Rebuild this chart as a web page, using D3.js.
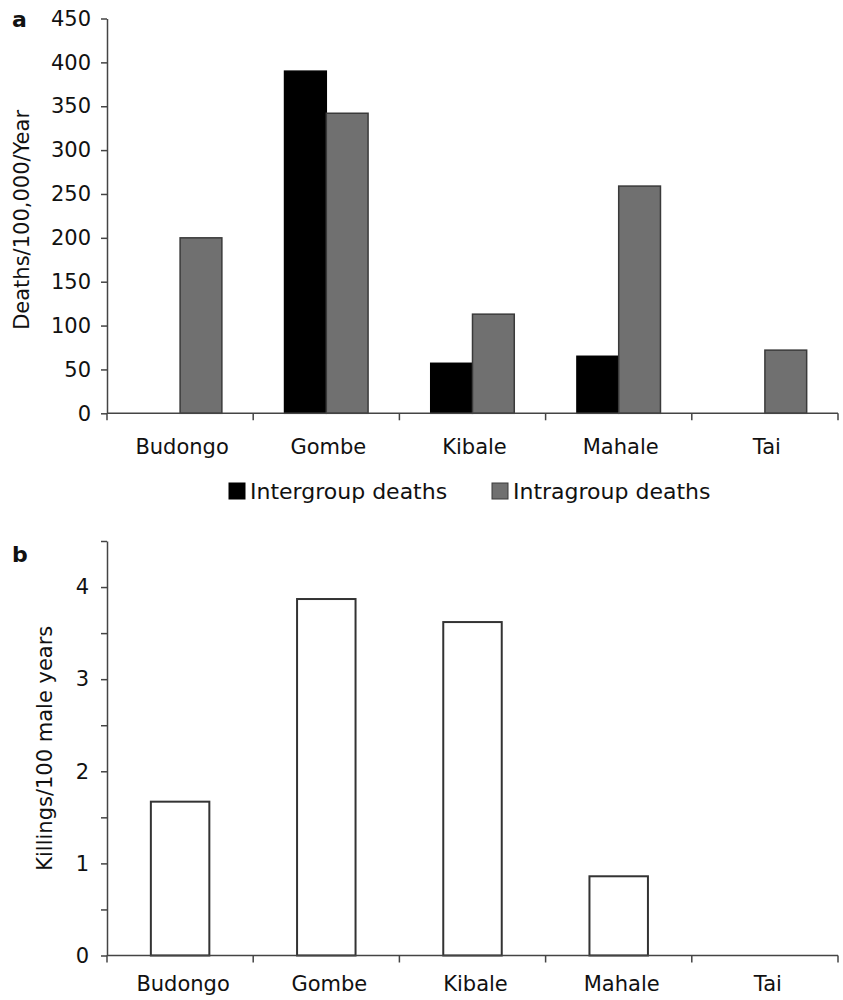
<!DOCTYPE html>
<html>
<head>
<meta charset="utf-8">
<script src="https://cdn.jsdelivr.net/npm/d3@7"></script>
<style>
  html, body { margin: 0; padding: 0; background: #fff; }
  svg text { font-family: "DejaVu Sans", Verdana, sans-serif; fill: #111; }
</style>
</head>
<body>
<svg id="chart" width="843" height="1000"></svg>
<script>
// ---- data ----
const categories = ["Budongo", "Gombe", "Kibale", "Mahale", "Tai"];
const seriesNames = ["Intergroup deaths", "Intragroup deaths"];
const intergroupDeaths = [0, 390, 57, 65, 0];
const intragroupDeaths = [200, 342, 113, 259, 72];
const killingsPer100MaleYears = [1.67, 3.87, 3.62, 0.86, 0];
const ticksA = [0, 50, 100, 150, 200, 250, 300, 350, 400, 450];
const ticksB = [0, 0.5, 1, 1.5, 2, 2.5, 3, 3.5, 4, 4.5];

const svg = d3.select("#chart");
const axisColor = "#444";
const seriesColor = { "Intergroup deaths": "#000000", "Intragroup deaths": "#707070" };

// ---- shared x ----
const x0 = d3.scaleBand().domain(categories).range([107, 838]).padding(0);

function drawXAxis(g, yPos) {
  const ax = g.append("g").attr("transform", `translate(0,${yPos})`);
  ax.append("line").attr("x1", x0.range()[0]).attr("x2", x0.range()[1])
    .attr("stroke", axisColor).attr("stroke-width", 1.5);
  const bounds = categories.map(c => x0(c)).concat([x0.range()[1]]);
  ax.selectAll("line.tk").data(bounds).join("line").attr("class", "tk")
    .attr("x1", d => d).attr("x2", d => d).attr("y1", 0).attr("y2", 7)
    .attr("stroke", axisColor).attr("stroke-width", 1.5);
}

function styleYAxis(sel) {
  sel.select(".domain").attr("stroke", axisColor).attr("stroke-width", 1.5);
  sel.selectAll(".tick line").attr("stroke", axisColor).attr("stroke-width", 1.5);
  sel.selectAll(".tick text").style("font-family", '"DejaVu Sans", Verdana, sans-serif')
     .style("font-size", "21px").attr("fill", "#111");
}

// ================= Panel a =================
const gA = svg.append("g");
const yA = d3.scaleLinear().domain([0, 450]).range([413.3, 18.5]);
const x1A = d3.scaleBand().domain(seriesNames).range([0, x0.bandwidth()])
  .paddingInner(0).paddingOuter(0.75);

const tableA = categories.map((c, i) => ({
  cat: c,
  vals: [
    { s: seriesNames[0], v: intergroupDeaths[i] },
    { s: seriesNames[1], v: intragroupDeaths[i] }
  ]
}));

const yAxisA = gA.append("g").attr("transform", "translate(107,0)")
  .call(d3.axisLeft(yA).tickValues(ticksA).tickSize(6).tickPadding(10).tickSizeOuter(0));
styleYAxis(yAxisA);

gA.selectAll("g.grp").data(tableA).join("g").attr("class", "grp")
  .attr("transform", d => `translate(${x0(d.cat)},0)`)
  .selectAll("rect").data(d => d.vals.filter(e => e.v > 0)).join("rect")
  .attr("x", d => x1A(d.s)).attr("width", x1A.bandwidth())
  .attr("y", d => yA(d.v)).attr("height", d => yA(0) - yA(d.v))
  .attr("fill", d => seriesColor[d.s])
  .attr("stroke", d => d.s === seriesNames[0] ? "#000" : "#3a3a3a")
  .attr("stroke-width", 1.5);

drawXAxis(gA, yA(0));

gA.selectAll("text.xl").data(categories).join("text").attr("class", "xl")
  .attr("x", d => x0(d) + x0.bandwidth() / 2 + 2).attr("y", 453.5)
  .attr("text-anchor", "middle").style("font-size", "21px").text(d => d);

gA.append("text")
  .attr("transform", `translate(29,${(yA(0) + yA(450)) / 2 + 4}) rotate(-90)`)
  .attr("text-anchor", "middle").style("font-size", "21px")
  .text("Deaths/100,000/Year");

gA.append("text").attr("x", 12).attr("y", 27)
  .style("font-size", "22px").style("font-weight", "bold").text("a");

// legend
const legend = gA.append("g");
const legendX = [229, 492];
seriesNames.forEach((s, i) => {
  legend.append("rect").attr("x", legendX[i]).attr("y", 483).attr("width", 16).attr("height", 16)
    .attr("fill", seriesColor[s]).attr("stroke", i === 0 ? "#000" : "#3a3a3a").attr("stroke-width", 1);
  legend.append("text").attr("x", legendX[i] + 21).attr("y", 499)
    .style("font-size", "22px").text(s);
});

// ================= Panel b =================
const gB = svg.append("g");
const yB = d3.scaleLinear().domain([0, 4.5]).range([955.5, 541]);
const x1B = d3.scaleBand().domain(["k"]).range([0, x0.bandwidth()])
  .paddingInner(0).paddingOuter(0.75);

const yAxisB = gB.append("g").attr("transform", "translate(107,0)")
  .call(d3.axisLeft(yB).tickValues(ticksB).tickSize(6).tickPadding(12).tickSizeOuter(0)
    .tickFormat(d => Number.isInteger(d) && d < 4.5 ? d3.format("d")(d) : ""));
styleYAxis(yAxisB);

const tableB = categories.map((c, i) => ({ cat: c, v: killingsPer100MaleYears[i] }));
gB.selectAll("rect.kb").data(tableB.filter(d => d.v > 0)).join("rect").attr("class", "kb")
  .attr("x", d => x0(d.cat) + x1B("k")).attr("width", x1B.bandwidth())
  .attr("y", d => yB(d.v)).attr("height", d => yB(0) - yB(d.v))
  .attr("fill", "#fff").attr("stroke", "#333").attr("stroke-width", 2);

drawXAxis(gB, yB(0));

gB.selectAll("text.xl").data(categories).join("text").attr("class", "xl")
  .attr("x", d => x0(d) + x0.bandwidth() / 2 + 3).attr("y", 991)
  .attr("text-anchor", "middle").style("font-size", "21px").text(d => d);

gB.append("text")
  .attr("transform", `translate(52,${(yB(0) + yB(4.5)) / 2}) rotate(-90)`)
  .attr("text-anchor", "middle").style("font-size", "21px")
  .text("Killings/100 male years");

gB.append("text").attr("x", 12).attr("y", 562)
  .style("font-size", "22px").style("font-weight", "bold").text("b");
</script>
</body>
</html>
